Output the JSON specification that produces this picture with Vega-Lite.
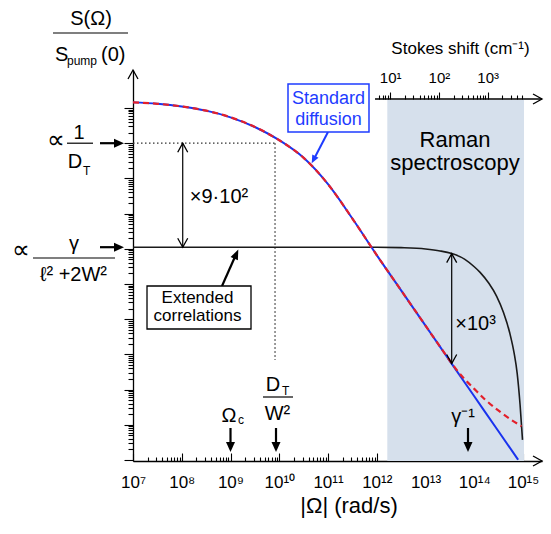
{
"$schema":"https://vega.github.io/schema/vega-lite/v6.json",
"width":409,"height":391,
"autosize":{"type":"none"},
"padding":{"left":133,"top":70,"right":9,"bottom":73},
"background":"white",
"config":{"view":{"stroke":null},"font":"Liberation Sans","axis":{"labelFont":"Liberation Sans","labelColor":"black"}},
"datasets":{
"shade":[{"w":1.646e12,"w2":1.048e15,"s":0.93678,"s2":1.6866e10}],
"blue":[{"w":1e7,"s":1.445e10},{"w":3.162e7,"s":1.318e10},{"w":1e8,"s":1.109e10},{"w":3.162e8,"s":8.414e9},{"w":1e9,"s":5.433e9},{"w":3.162e9,"s":2.884e9},{"w":1e10,"s":1.216e9},{"w":3.162e10,"s":3.846e8},{"w":1e11,"s":6.839e7},{"w":3.162e11,"s":7.244e6},{"w":1e12,"s":6.607e5},{"w":3.162e12,"s":6.607e4},{"w":1e13,"s":6561},{"w":1.995e13,"s":1641},{"w":3.162e13,"s":645.7},{"w":1e14,"s":64.57},{"w":3.162e14,"s":6.457},{"w":7.943e14,"s":1.016}],
"red":[{"w":1e7,"s":1.445e10},{"w":3.162e7,"s":1.318e10},{"w":1e8,"s":1.109e10},{"w":3.162e8,"s":8.414e9},{"w":1e9,"s":5.433e9},{"w":3.162e9,"s":2.884e9},{"w":1e10,"s":1.216e9},{"w":3.162e10,"s":3.846e8},{"w":1e11,"s":6.839e7},{"w":3.162e11,"s":7.244e6},{"w":1e12,"s":6.607e5},{"w":3.162e12,"s":6.607e4},{"w":1e13,"s":6561},{"w":1.995e13,"s":1641},{"w":3.162e13,"s":660.7},{"w":3.981e13,"s":426.6},{"w":6.31e13,"s":199.5},{"w":1e14,"s":104.7},{"w":1.66e14,"s":52.48},{"w":3.162e14,"s":25.12},{"w":5.623e14,"s":14.13},{"w":9.333e14,"s":9.12}],
"black":[{"w":1e7,"s":1.111e6},{"w":1e12,"s":1.111e6},{"w":3.162e12,"s":1.08e6},{"w":1e13,"s":9.9e5},{"w":1.995e13,"s":8.7e5},{"w":3.467e13,"s":7.3e5},{"w":6.31e13,"s":5.1e5},{"w":1e14,"s":3.09e5},{"w":1.318e14,"s":2.14e5},{"w":1.995e14,"s":1.047e5},{"w":2.884e14,"s":4.467e4},{"w":3.981e14,"s":1.549e4},{"w":5.37e14,"s":3981},{"w":6.607e14,"s":1047},{"w":7.586e14,"s":295},{"w":8.71e14,"s":37.2},{"w":9.772e14,"s":3.72}],
"dotted":[{"w":1e7,"w2":8.19e9,"s":1e9,"s2":1e9},{"w":8.19e9,"w2":8.19e9,"s":1e9,"s2":693.4}],
"thin":[{"w":2.286e5,"w2":7.897e6,"s":1.352e12,"s2":1.352e12},{"w":4.429e5,"w2":1.512e6,"s":1e9,"s2":1e9},{"w":8.887e4,"w2":4.273e6,"s":5.478e5,"s2":5.478e5},{"w":4.642e9,"w2":1.915e10,"s":61.63,"s2":61.63},{"w":1.047e8,"w2":1.047e8,"s":1e9,"s2":1.111e6},{"w":3.447e13,"w2":3.447e13,"s":7.3e5,"s2":550}],
"bold":[{"w":2.104e6,"w2":4.48e6,"s":1e9,"s2":1e9},{"w":2.104e6,"w2":4.48e6,"s":1.111e6,"s2":1.111e6},{"w":1e9,"w2":1e9,"s":8.11,"s2":2.848},{"w":8.58e9,"w2":8.58e9,"s":8.11,"s2":2.848},{"w":7.445e13,"w2":7.445e13,"s":8.11,"s2":2.848},{"w":6.694e8,"w2":1.237e9,"s":8.77e4,"s2":5.929e5}],
"blueshaft":[{"w":1e11,"w2":5.287e10,"s":2.08e9,"s2":3.802e8}],
"headright":[{"w":6.537e6,"s":1e9},{"w":6.537e6,"s":1.111e6}],
"headdown":[{"w":1e9,"s":1.688},{"w":8.58e9,"s":1.688},{"w":7.445e13,"s":1.688}],
"headext":[{"w":1.445e9,"s":9.55e5}],
"headblue":[{"w":4.63e10,"s":2.685e8}],
"chevup":[{"w":1e7,"s":1.2011e11},{"w":1.047e8,"s":1e9},{"w":3.447e13,"s":7.3e5}],
"chevdown":[{"w":1.047e8,"s":1.111e6},{"w":3.447e13,"s":550}],
"chevright":[{"w":2.4532e15,"s":0.93678}],
"boxblue":[{"w":1.512e10,"w2":6.934e11,"s":2.08e9,"s2":4.808e10}],
"boxblack":[{"w":1.938e7,"w2":2.634e9,"s":5268,"s2":8.77e4}],
"txtprop":[{"w":2.634e5,"s":7.311e8,"t":"∝"},{"w":5.044e4,"s":5.478e5,"t":"∝"}],
"txt20":[{"w":1.376e6,"s":2.28e12,"t":"S(Ω)"},{"w":7.804e5,"s":1.315e9,"t":"1"},{"w":6.462e5,"s":1.974e8,"t":"D"},{"w":6.163e5,"s":9.247e5,"t":"γ"},{"w":6.02e5,"s":1.217e5,"t":"ℓ² +2W²"},{"w":5.808e8,"s":2.0e7,"t":"×9·10²"},{"w":1.061e14,"s":4932,"t":"×10³"},{"w":9.316e8,"s":12.01,"t":"Ω"},{"w":7.445e9,"s":91.2,"t":"D"},{"w":9.207e9,"s":13.68,"t":"W²"},{"w":5.875e13,"s":11.25,"t":"γ⁻¹"}],
"txt20l":[{"w":2.512e5,"s":2.163e11,"t":"S"},{"w":2.206e6,"s":2.163e11,"t":"(0)"}],
"txtsub":[{"w":4.429e5,"s":1.667e11,"t":"pump"},{"w":9.428e5,"s":1.25e8,"t":"T"},{"w":1.139e10,"s":70.24,"t":"T"},{"w":1.425e9,"s":10.54,"t":"c"}],
"txt22":[{"w":4.028e13,"s":7.962e8,"t":"Raman"},{"w":4.028e13,"s":1.734e8,"t":"spectroscopy"},{"w":2.697e11,"s":0.0312,"t":"|Ω| (rad/s)"}],
"txt18":[{"w":2.104e8,"s":2.981e4,"t":"Extended"},{"w":2.104e8,"s":8892,"t":"correlations"},{"w":5.222e13,"s":3.42e11,"t":"Stokes shift (cm⁻¹)"}],
"txt18b":[{"w":1.024e11,"s":1.3e10,"t":"Standard"},{"w":1.024e11,"s":3.289e9,"t":"diffusion"}],
"topline":[{"c":4.886,"c2":13023,"s":1.802e10}],
"topchev":[{"c":13023,"s":1.802e10}]
},
"layer":[
{"layer":[
{"data":{"name":"shade"},"mark":{"type":"rect","fill":"#d6e0ec"},
 "encoding":{
  "x":{"field":"w","type":"quantitative","scale":{"type":"log","domain":[1e7,2.4532e15],"nice":false},
   "axis":{"orient":"bottom","title":null,"grid":false,"values":[1e7,2e7,3e7,4e7,5e7,6e7,7e7,8e7,9e7,1e8,2e8,3e8,4e8,5e8,6e8,7e8,8e8,9e8,1e9,2e9,3e9,4e9,5e9,6e9,7e9,8e9,9e9,1e10,2e10,3e10,4e10,5e10,6e10,7e10,8e10,9e10,1e11,2e11,3e11,4e11,5e11,6e11,7e11,8e11,9e11,1e12,2e12,3e12,4e12,5e12,6e12,7e12,8e12,9e12,1e13,2e13,3e13,4e13,5e13,6e13,7e13,8e13,9e13,1e14,2e14,3e14,4e14,5e14,6e14,7e14,8e14,9e14,1e15],
    "labelExpr":"abs(log(datum.value)/LN10 - round(log(datum.value)/LN10)) < 0.01 ? '10' + ['⁰','¹','²','³','⁴','⁵','⁶','⁷','⁸','⁹','¹⁰','¹¹','¹²','¹³','¹⁴','¹⁵'][round(log(datum.value)/LN10)] : ''",
    "labelFlush":false,"labelOverlap":false,"labelFontSize":17,"labelBaseline":"alphabetic","labelPadding":34,
    "domainColor":"black","domainWidth":1.3,"tickColor":"black","tickWidth":1.1,
    "tickSize":{"condition":{"test":"abs(log(datum.value)/LN10 - round(log(datum.value)/LN10)) < 0.01","value":-8},"value":-4}}},
  "x2":{"field":"w2"},
  "y":{"field":"s","type":"quantitative","scale":{"type":"log","domain":[0.93678,1.2011e11],"nice":false},
   "axis":{"title":null,"grid":false,"labels":false,"values":[1,2,3,4,5,6,7,8,9,10,20,30,40,50,60,70,80,90,100,200,300,400,500,600,700,800,900,1e3,2e3,3e3,4e3,5e3,6e3,7e3,8e3,9e3,1e4,2e4,3e4,4e4,5e4,6e4,7e4,8e4,9e4,1e5,2e5,3e5,4e5,5e5,6e5,7e5,8e5,9e5,1e6,2e6,3e6,4e6,5e6,6e6,7e6,8e6,9e6,1e7,2e7,3e7,4e7,5e7,6e7,7e7,8e7,9e7,1e8,2e8,3e8,4e8,5e8,6e8,7e8,8e8,9e8,1e9,2e9,3e9,4e9,5e9,6e9,7e9,8e9,9e9,1e10],
    "domainColor":"black","domainWidth":1.3,"tickColor":"black","tickWidth":1.1,
    "tickSize":{"condition":{"test":"abs(log(datum.value)/LN10 - round(log(datum.value)/LN10)) < 0.01","value":9},"value":5}}},
  "y2":{"field":"s2"}}},
{"data":{"name":"dotted"},"mark":{"type":"rule","color":"#333333","strokeWidth":1.3,"strokeDash":[1.5,2.5]},
 "encoding":{"x":{"field":"w","type":"quantitative","scale":{"type":"log","domain":[1e7,2.4532e15],"nice":false}},"x2":{"field":"w2"},"y":{"field":"s","type":"quantitative","scale":{"type":"log","domain":[0.93678,1.2011e11],"nice":false}},"y2":{"field":"s2"}}},
{"data":{"name":"black"},"mark":{"type":"line","color":"#1a1a1a","strokeWidth":1.6,"interpolate":"monotone"},
 "encoding":{"x":{"field":"w","type":"quantitative","scale":{"type":"log","domain":[1e7,2.4532e15],"nice":false}},"y":{"field":"s","type":"quantitative","scale":{"type":"log","domain":[0.93678,1.2011e11],"nice":false}}}},
{"data":{"name":"blue"},"mark":{"type":"line","color":"#1a33ee","strokeWidth":2,"interpolate":"monotone"},
 "encoding":{"x":{"field":"w","type":"quantitative","scale":{"type":"log","domain":[1e7,2.4532e15],"nice":false}},"y":{"field":"s","type":"quantitative","scale":{"type":"log","domain":[0.93678,1.2011e11],"nice":false}}}},
{"data":{"name":"red"},"mark":{"type":"line","color":"#e3202b","strokeWidth":2.2,"strokeDash":[6,4],"interpolate":"monotone"},
 "encoding":{"x":{"field":"w","type":"quantitative","scale":{"type":"log","domain":[1e7,2.4532e15],"nice":false}},"y":{"field":"s","type":"quantitative","scale":{"type":"log","domain":[0.93678,1.2011e11],"nice":false}}}},
{"data":{"name":"thin"},"mark":{"type":"rule","color":"black","strokeWidth":1.2},
 "encoding":{"x":{"field":"w","type":"quantitative","scale":{"type":"log","domain":[1e7,2.4532e15],"nice":false}},"x2":{"field":"w2"},"y":{"field":"s","type":"quantitative","scale":{"type":"log","domain":[0.93678,1.2011e11],"nice":false}},"y2":{"field":"s2"}}},
{"data":{"name":"bold"},"mark":{"type":"rule","color":"black","strokeWidth":2.2},
 "encoding":{"x":{"field":"w","type":"quantitative","scale":{"type":"log","domain":[1e7,2.4532e15],"nice":false}},"x2":{"field":"w2"},"y":{"field":"s","type":"quantitative","scale":{"type":"log","domain":[0.93678,1.2011e11],"nice":false}},"y2":{"field":"s2"}}},
{"data":{"name":"blueshaft"},"mark":{"type":"rule","color":"#1e3cff","strokeWidth":2},
 "encoding":{"x":{"field":"w","type":"quantitative","scale":{"type":"log","domain":[1e7,2.4532e15],"nice":false}},"x2":{"field":"w2"},"y":{"field":"s","type":"quantitative","scale":{"type":"log","domain":[0.93678,1.2011e11],"nice":false}},"y2":{"field":"s2"}}},
{"data":{"name":"headright"},"mark":{"type":"point","shape":"M0,0L-10,-4.5L-10,4.5Z","size":4,"filled":true,"color":"black","opacity":1},
 "encoding":{"x":{"field":"w","type":"quantitative","scale":{"type":"log","domain":[1e7,2.4532e15],"nice":false}},"y":{"field":"s","type":"quantitative","scale":{"type":"log","domain":[0.93678,1.2011e11],"nice":false}}}},
{"data":{"name":"headdown"},"mark":{"type":"point","shape":"M0,0L-4.5,-10L4.5,-10Z","size":4,"filled":true,"color":"black","opacity":1},
 "encoding":{"x":{"field":"w","type":"quantitative","scale":{"type":"log","domain":[1e7,2.4532e15],"nice":false}},"y":{"field":"s","type":"quantitative","scale":{"type":"log","domain":[0.93678,1.2011e11],"nice":false}}}},
{"data":{"name":"headext"},"mark":{"type":"point","shape":"M0,0L-4,-10L4,-10Z","size":4,"filled":true,"color":"black","opacity":1,"angle":204},
 "encoding":{"x":{"field":"w","type":"quantitative","scale":{"type":"log","domain":[1e7,2.4532e15],"nice":false}},"y":{"field":"s","type":"quantitative","scale":{"type":"log","domain":[0.93678,1.2011e11],"nice":false}}}},
{"data":{"name":"headblue"},"mark":{"type":"point","shape":"M0,0L-3.5,-8L3.5,-8Z","size":4,"filled":true,"color":"#1e3cff","opacity":1,"angle":27.5},
 "encoding":{"x":{"field":"w","type":"quantitative","scale":{"type":"log","domain":[1e7,2.4532e15],"nice":false}},"y":{"field":"s","type":"quantitative","scale":{"type":"log","domain":[0.93678,1.2011e11],"nice":false}}}},
{"data":{"name":"chevup"},"mark":{"type":"point","shape":"M-5,9L0,0L5,9","size":4,"filled":false,"color":"black","strokeWidth":1.3,"opacity":1},
 "encoding":{"x":{"field":"w","type":"quantitative","scale":{"type":"log","domain":[1e7,2.4532e15],"nice":false}},"y":{"field":"s","type":"quantitative","scale":{"type":"log","domain":[0.93678,1.2011e11],"nice":false}}}},
{"data":{"name":"chevdown"},"mark":{"type":"point","shape":"M-5,-9L0,0L5,-9","size":4,"filled":false,"color":"black","strokeWidth":1.3,"opacity":1},
 "encoding":{"x":{"field":"w","type":"quantitative","scale":{"type":"log","domain":[1e7,2.4532e15],"nice":false}},"y":{"field":"s","type":"quantitative","scale":{"type":"log","domain":[0.93678,1.2011e11],"nice":false}}}},
{"data":{"name":"chevright"},"mark":{"type":"point","shape":"M-9,-5L0,0L-9,5","size":4,"filled":false,"color":"black","strokeWidth":1.3,"opacity":1},
 "encoding":{"x":{"field":"w","type":"quantitative","scale":{"type":"log","domain":[1e7,2.4532e15],"nice":false}},"y":{"field":"s","type":"quantitative","scale":{"type":"log","domain":[0.93678,1.2011e11],"nice":false}}}},
{"data":{"name":"boxblue"},"mark":{"type":"rect","fill":"white","stroke":"#1e3cff","strokeWidth":1.5},
 "encoding":{"x":{"field":"w","type":"quantitative","scale":{"type":"log","domain":[1e7,2.4532e15],"nice":false}},"x2":{"field":"w2"},"y":{"field":"s","type":"quantitative","scale":{"type":"log","domain":[0.93678,1.2011e11],"nice":false}},"y2":{"field":"s2"}}},
{"data":{"name":"boxblack"},"mark":{"type":"rect","fill":"white","stroke":"black","strokeWidth":1.3},
 "encoding":{"x":{"field":"w","type":"quantitative","scale":{"type":"log","domain":[1e7,2.4532e15],"nice":false}},"x2":{"field":"w2"},"y":{"field":"s","type":"quantitative","scale":{"type":"log","domain":[0.93678,1.2011e11],"nice":false}},"y2":{"field":"s2"}}},
{"data":{"name":"txtprop"},"mark":{"type":"text","fontSize":25,"align":"center","baseline":"alphabetic","color":"black","font":"Liberation Sans"},
 "encoding":{"x":{"field":"w","type":"quantitative","scale":{"type":"log","domain":[1e7,2.4532e15],"nice":false}},"y":{"field":"s","type":"quantitative","scale":{"type":"log","domain":[0.93678,1.2011e11],"nice":false}},"text":{"field":"t"}}},
{"data":{"name":"txt20"},"mark":{"type":"text","fontSize":20,"align":"center","baseline":"alphabetic","color":"black","font":"Liberation Sans"},
 "encoding":{"x":{"field":"w","type":"quantitative","scale":{"type":"log","domain":[1e7,2.4532e15],"nice":false}},"y":{"field":"s","type":"quantitative","scale":{"type":"log","domain":[0.93678,1.2011e11],"nice":false}},"text":{"field":"t"}}},
{"data":{"name":"txt20l"},"mark":{"type":"text","fontSize":20,"align":"left","baseline":"alphabetic","color":"black","font":"Liberation Sans"},
 "encoding":{"x":{"field":"w","type":"quantitative","scale":{"type":"log","domain":[1e7,2.4532e15],"nice":false}},"y":{"field":"s","type":"quantitative","scale":{"type":"log","domain":[0.93678,1.2011e11],"nice":false}},"text":{"field":"t"}}},
{"data":{"name":"txtsub"},"mark":{"type":"text","fontSize":12,"align":"left","baseline":"alphabetic","color":"black","font":"Liberation Sans"},
 "encoding":{"x":{"field":"w","type":"quantitative","scale":{"type":"log","domain":[1e7,2.4532e15],"nice":false}},"y":{"field":"s","type":"quantitative","scale":{"type":"log","domain":[0.93678,1.2011e11],"nice":false}},"text":{"field":"t"}}},
{"data":{"name":"txt22"},"mark":{"type":"text","fontSize":22,"align":"center","baseline":"alphabetic","color":"black","font":"Liberation Sans"},
 "encoding":{"x":{"field":"w","type":"quantitative","scale":{"type":"log","domain":[1e7,2.4532e15],"nice":false}},"y":{"field":"s","type":"quantitative","scale":{"type":"log","domain":[0.93678,1.2011e11],"nice":false}},"text":{"field":"t"}}},
{"data":{"name":"txt18"},"mark":{"type":"text","fontSize":17,"align":"center","baseline":"alphabetic","color":"black","font":"Liberation Sans"},
 "encoding":{"x":{"field":"w","type":"quantitative","scale":{"type":"log","domain":[1e7,2.4532e15],"nice":false}},"y":{"field":"s","type":"quantitative","scale":{"type":"log","domain":[0.93678,1.2011e11],"nice":false}},"text":{"field":"t"}}},
{"data":{"name":"txt18b"},"mark":{"type":"text","fontSize":18,"align":"center","baseline":"alphabetic","color":"#1e3cff","font":"Liberation Sans"},
 "encoding":{"x":{"field":"w","type":"quantitative","scale":{"type":"log","domain":[1e7,2.4532e15],"nice":false}},"y":{"field":"s","type":"quantitative","scale":{"type":"log","domain":[0.93678,1.2011e11],"nice":false}},"text":{"field":"t"}}}
]},
{"layer":[
{"data":{"name":"topline"},"mark":{"type":"rule","color":"black","strokeWidth":1.3},
 "encoding":{
  "x":{"field":"c","type":"quantitative","scale":{"type":"log","domain":[5.3087e-5,13023],"nice":false},
   "axis":{"orient":"top","offset":-29,"title":null,"grid":false,"domain":false,
    "values":[6,7,8,9,10,20,30,40,50,60,70,80,90,100,200,300,400,500,600,700,800,900,1000,2000,3000,4000,5000],
    "labelExpr":"abs(log(datum.value)/LN10 - round(log(datum.value)/LN10)) < 0.01 ? '10' + ['⁰','¹','²','³','⁴','⁵','⁶','⁷','⁸','⁹'][round(log(datum.value)/LN10)] : ''",
    "labelFlush":false,"labelOverlap":false,"labelFontSize":15,"labelBaseline":"alphabetic","labelPadding":10,
    "tickColor":"black","tickWidth":1.1,
    "tickSize":{"condition":{"test":"abs(log(datum.value)/LN10 - round(log(datum.value)/LN10)) < 0.01","value":7},"value":4}}},
  "x2":{"field":"c2"},
  "y":{"field":"s","type":"quantitative","scale":{"type":"log","domain":[0.93678,1.2011e11],"nice":false}}}},
{"data":{"name":"topchev"},"mark":{"type":"point","shape":"M-9,-5L0,0L-9,5","size":4,"filled":false,"color":"black","strokeWidth":1.3,"opacity":1},
 "encoding":{"x":{"field":"c","type":"quantitative","scale":{"type":"log","domain":[5.3087e-5,13023],"nice":false}},"y":{"field":"s","type":"quantitative","scale":{"type":"log","domain":[0.93678,1.2011e11],"nice":false}}}}
]}
],
"resolve":{"scale":{"x":"independent"}}
}
